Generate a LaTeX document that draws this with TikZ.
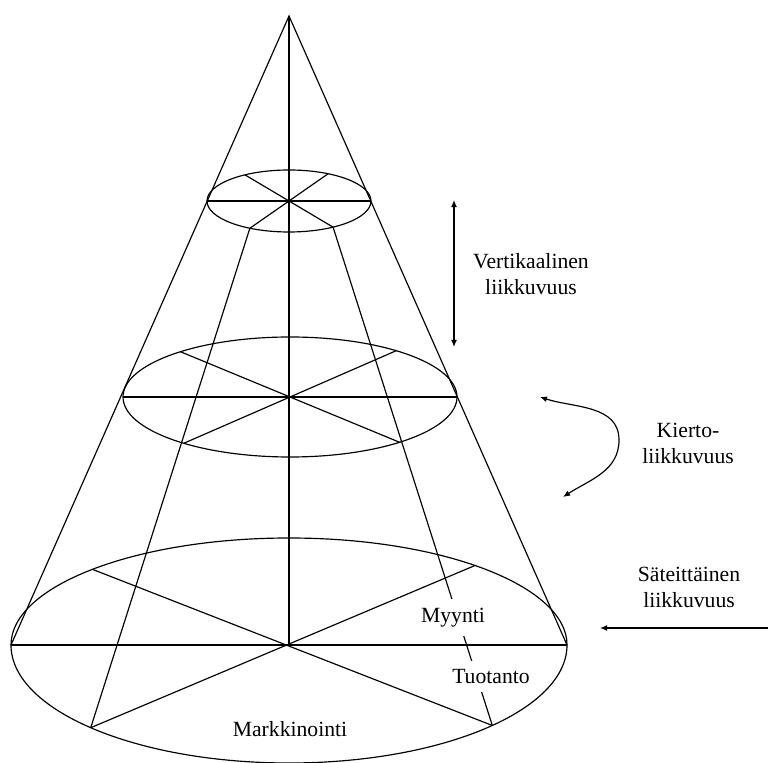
\documentclass[tikz,border=0pt]{standalone}
\usepackage{fontspec}
\setmainfont{Liberation Serif}
\usetikzlibrary{arrows.meta, calc}

\begin{document}
\begin{tikzpicture}[
    x=0.03cm, y=0.03cm,
    line width=1pt,
    move/.style={line width=1pt, {Latex[length=6pt,width=5pt]}-{Latex[length=6pt,width=5pt]}},
    push/.style={line width=1pt, -{Latex[length=6pt,width=5pt]}},
    lbl/.style={font=\fontsize{18.5}{22.2}\selectfont, inner sep=1pt},
    cut/.style={lbl, fill=white, inner xsep=1pt, inner ysep=7.5pt},
    side/.style={lbl, align=center}
]
   \useasboundingbox (0,0) rectangle (768,762);

   % Centres
   \coordinate (apex) at (289,746);
   \coordinate (c0) at (289,561);
   \coordinate (c1) at (290,365);
   \coordinate (c2) at (289,117);

   % Spoke ends
   \coordinate (t1) at ($(c0)+(122.5:82 and 31)$);
   \coordinate (t2) at ($(c0)+(302.5:82 and 31)$);
   \coordinate (t3) at ($(c0)+(61.5:82 and 31)$);
   \coordinate (t4) at ($(c0)+(241.5:82 and 31)$);
   \coordinate (m1) at ($(c1)+(131:167 and 60)$);
   \coordinate (m2) at ($(c1)+(311:167 and 60)$);
   \coordinate (m3) at ($(c1)+(50.5:167 and 60)$);
   \coordinate (m4) at ($(c1)+(230.5:167 and 60)$);
   \coordinate (b1) at ($(c2)+(135:278 and 107)$);
   \coordinate (b2) at ($(c2)+(317:278 and 118)$);
   \coordinate (b3) at ($(c2)+(48:278 and 107)$);
   \coordinate (b4) at ($(c2)+(224.5:278 and 118)$);

   % Levels
   \draw (c0) ellipse [x radius=82, y radius=31];
   \draw (c1) ellipse [x radius=167, y radius=60];
   \draw ($(c2)+(-278,0)$) arc [start angle=180, end angle=0, x radius=278, y radius=107]
        arc [start angle=0, end angle=-180, x radius=278, y radius=118];

   % Cone
   \draw ($(c2)+(-278,0)$) -- (apex) -- ($(c2)+(278,0)$);
   \draw (apex) -- (c2);
   \draw (t4) -- (b4);
   \draw (t2) -- (b2);

   % Spokes
   \draw ($(c0)+(-82,0)$) -- ($(c0)+(82,0)$);
   \draw (t1) -- (t2) (t3) -- (t4);
   \draw ($(c1)+(-167,0)$) -- ($(c1)+(167,0)$);
   \draw (m1) -- (m2) (m3) -- (m4);
   \draw ($(c2)+(-278,0)$) -- ($(c2)+(278,0)$);
   \draw (b1) -- (b2) (b3) -- (b4);

   % Sectors
   \node[cut, anchor=base] (myynti) at (453,139.5) {Myynti};
   \node[cut, anchor=base] (tuotanto) at (491,78.5) {Tuotanto};
   \node[lbl, anchor=base] (markkinointi) at (290,26) {Markkinointi};

   % Mobility
   \coordinate (v1) at (454,562);
   \coordinate (v2) at (454,415);
   \draw[move] (v1) -- (v2);
   \node[side] (vert) at (531,488) {Vertikaalinen\\liikkuvuus};

   \coordinate (k1) at (540,365);
   \coordinate (k2) at (619,322);
   \coordinate (k3) at (563,265);
   \draw[move] (k1) to[out=-18, in=90] (k2) to[out=-90, in=33] (k3);
   \node[side] (kierto) at (688,319) {Kierto-\\liikkuvuus};

   \coordinate (s1) at (768,134);
   \coordinate (s2) at (600,134);
   \draw[push] (s1) -- (s2);
   \node[side] (sade) at (689,175) {Säteittäinen\\liikkuvuus};
\end{tikzpicture}
\end{document}
